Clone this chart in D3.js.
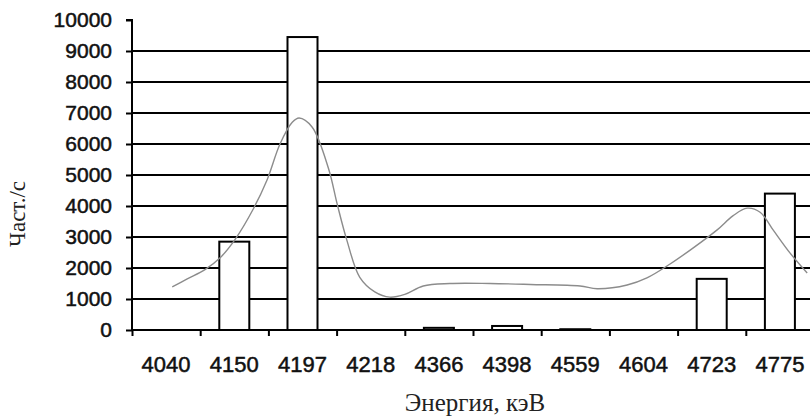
<!DOCTYPE html>
<html>
<head>
<meta charset="utf-8">
<script src="https://cdn.jsdelivr.net/npm/d3@7"></script>
<style>
  body { margin: 0; background: #fff; }
  svg { display: block; }
</style>
</head>
<body>
<svg width="810" height="417"></svg>
<script>
// energies (keV) and count rates
const energies = ["4040", "4150", "4197", "4218", "4366", "4398", "4559", "4604", "4723", "4775"];
const counts = [0, 2850, 9450, 0, 70, 130, 25, 0, 1650, 4400];
const yTicks = [0, 1000, 2000, 3000, 4000, 5000, 6000, 7000, 8000, 9000, 10000];

// smoothed spectrum: position in bins (0..10) and rate
const curvePos = [0.59, 0.81, 1.07, 1.30, 1.52, 1.77, 1.98, 2.17, 2.35, 2.45, 2.64, 2.88, 3.01, 3.15, 3.34, 3.56, 3.78, 4.00, 4.27, 4.66, 5.25, 5.84, 6.57, 6.82, 7.26, 7.55, 7.89, 8.23, 8.58, 8.81, 9.02, 9.21, 9.40, 9.65, 9.90];
const curveVal = [1390, 1650, 1950, 2350, 2950, 3870, 4840, 6000, 6700, 6840, 6550, 5220, 4050, 2900, 1700, 1230, 1060, 1150, 1420, 1500, 1500, 1470, 1420, 1330, 1450, 1680, 2130, 2650, 3230, 3680, 3930, 3800, 3230, 2480, 1840];

const margin = { left: 132, top: 20, bottom: 87 };
const plotRight = 814;
const svg = d3.select("svg");
const H = 417;

const x = d3.scaleBand().domain(energies).range([margin.left, plotRight]).paddingInner(0.56).paddingOuter(0.28);
const xPos = d3.scaleLinear().domain([0, energies.length]).range([margin.left, plotRight]);
const y = d3.scaleLinear().domain([0, 10000]).range([H - margin.bottom, margin.top]);

// gridlines
svg.append("g")
  .selectAll("line")
  .data(yTicks.filter(t => t > 0 && t < 10000))
  .enter()
  .append("line")
  .attr("x1", margin.left)
  .attr("x2", plotRight)
  .attr("y1", d => y(d))
  .attr("y2", d => y(d))
  .attr("stroke", "#000")
  .attr("stroke-width", 2);

// bars
svg.append("g")
  .selectAll("rect")
  .data(energies.map((e, i) => ({ e, v: counts[i] })).filter(d => d.v > 0))
  .enter()
  .append("rect")
  .attr("x", d => x(d.e))
  .attr("width", x.bandwidth())
  .attr("y", d => y(d.v))
  .attr("height", d => y(0) - y(d.v))
  .attr("fill", "#fff")
  .attr("stroke", "#000")
  .attr("stroke-width", 2);

// smoothed curve
const line = d3.line()
  .curve(d3.curveCatmullRom)
  .x((d, i) => xPos(curvePos[i]))
  .y(d => y(d));

svg.append("path")
  .datum(curveVal)
  .attr("d", line)
  .attr("fill", "none")
  .attr("stroke", "#8c8c8c")
  .attr("stroke-width", 1.4);

const sans = "Liberation Sans, Arial, sans-serif";
const serif = "Liberation Serif, Times New Roman, serif";

// y axis
const yAxis = svg.append("g")
  .attr("transform", `translate(${margin.left},0)`)
  .call(d3.axisLeft(y).tickValues(yTicks).tickSize(6).tickPadding(14).tickFormat(d3.format("d")));
yAxis.select(".domain").attr("stroke-width", 2).attr("d", `M-6,${y(10000)}H0V${y(0)}`);
yAxis.selectAll(".tick line").attr("stroke-width", 2);
yAxis.selectAll(".tick text")
  .attr("font-family", sans)
  .attr("font-size", 21)
  .attr("fill", "#111")
  .attr("stroke", "#111")
  .attr("stroke-width", 0.5);

// x axis
const xAxis = svg.append("g")
  .attr("transform", `translate(0,${y(0)})`)
  .call(d3.axisBottom(xPos).tickValues(d3.range(0, energies.length + 1)).tickSize(6).tickFormat(""));
xAxis.select(".domain").attr("stroke-width", 2).attr("d", `M${margin.left},0H${plotRight}`);
xAxis.selectAll(".tick line").attr("stroke-width", 2);

svg.append("g")
  .selectAll("text")
  .data(energies)
  .enter()
  .append("text")
  .attr("x", d => x(d) + x.bandwidth() / 2)
  .attr("y", y(0) + 42)
  .attr("text-anchor", "middle")
  .attr("font-family", sans)
  .attr("font-size", 22)
  .attr("fill", "#111")
  .attr("stroke", "#111")
  .attr("stroke-width", 0.5)
  .text(d => d);

// axis titles
svg.append("text")
  .attr("x", 475)
  .attr("y", 411)
  .attr("text-anchor", "middle")
  .attr("font-family", serif)
  .attr("font-size", 25)
  .attr("fill", "#222")
  .text("Энергия, кэВ");

svg.append("text")
  .attr("transform", "translate(25,214) rotate(-90)")
  .attr("text-anchor", "middle")
  .attr("font-family", serif)
  .attr("font-size", 23)
  .attr("fill", "#222")
  .text("Част./с");
</script>
</body>
</html>
